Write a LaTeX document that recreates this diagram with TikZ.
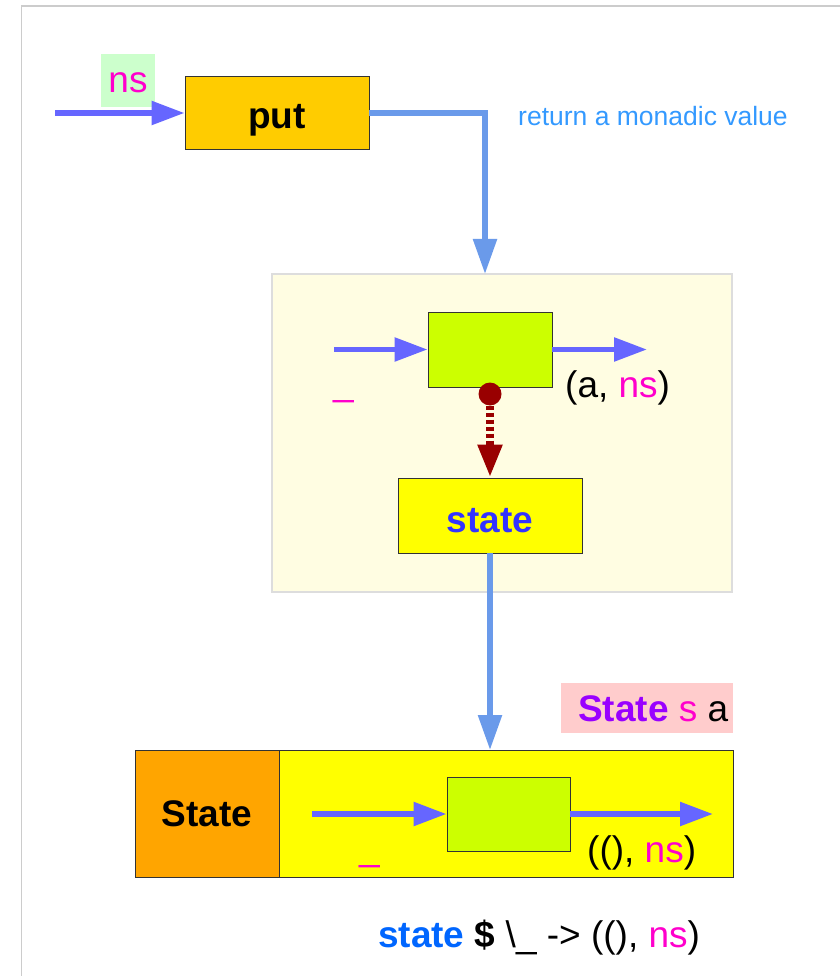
\documentclass[tikz,border=0pt]{standalone}
\usepackage{fontspec}
\setmainfont{Liberation Sans}
\usetikzlibrary{arrows.meta}
\definecolor{arrblue}{HTML}{6666FF}
\definecolor{linkblue}{HTML}{6A9AEA}
\definecolor{putfill}{HTML}{FFCC00}
\definecolor{paleyel}{HTML}{FFFDE2}
\definecolor{paleborder}{HTML}{DDDDDD}
\definecolor{limefill}{HTML}{CCFF00}
\definecolor{yelfill}{HTML}{FFFF00}
\definecolor{orangefill}{HTML}{FFA500}
\definecolor{pinkfill}{HTML}{FFCCCC}
\definecolor{greenlab}{HTML}{CCFFCC}
\definecolor{mag}{HTML}{FF00CC}
\definecolor{darkred}{HTML}{990000}
\definecolor{stateblue}{HTML}{3333FF}
\definecolor{purp}{HTML}{9900FF}
\definecolor{codeblue}{HTML}{0066FF}
\definecolor{retblue}{HTML}{3399FF}
\definecolor{framegray}{HTML}{CCCCCC}
\newcommand{\bigf}{\fontsize{37}{42}\selectfont}
\tikzset{
  box/.style={draw=black!80, line width=0.9pt, inner sep=0pt, rectangle},
  flowarr/.style={draw=arrblue, line width=5.5pt, -{Triangle[length=33pt,width=23pt]}},
  linkarr/.style={draw=linkblue, line width=5.5pt, -{Triangle[length=35pt,width=23pt]}},
  txt/.style={inner sep=0pt, font=\bigf},
}
\begin{document}
\begin{tikzpicture}[x=1pt,y=-1pt]
\useasboundingbox (0,0) rectangle (839,976);
% frame
\draw[framegray, line width=1.5pt] (21.5,990) -- (21.5,6) -- (850,6);

% top
\node[fill=greenlab, inner sep=0pt, minimum width=54pt, minimum height=53pt, text height=25pt, text depth=0pt, font=\bigf, text=mag] (nslab) at (128,80.5) {ns};
\node[box, fill=putfill, minimum width=184pt, minimum height=73pt, text height=32pt, text depth=0pt, font=\bigf\bfseries] (put) at (277,113) {put};
\coordinate (in0) at (55,113);
\draw[flowarr] (in0) -- (put.west);
\node[inner sep=0pt, anchor=base west, font=\fontsize{26.5}{30}\selectfont, text=retblue] (ret) at (518,126) {return a monadic value};

% middle
\node[draw=paleborder, line width=1.2pt, fill=paleyel, inner sep=0pt, minimum width=460pt, minimum height=318pt] (mid) at (502,433) {};
\coordinate (t1) at (485,274);
\draw[linkarr] (put.east) -| (t1);
\node[box, fill=limefill, minimum width=124pt, minimum height=75pt] (g1) at (490,349.5) {};
\node[box, fill=yelfill, minimum width=184pt, minimum height=75pt, text height=33pt, text depth=0pt, font=\bigf\bfseries, text=stateblue] (st) at (490,515.5) {state};
\coordinate (a1) at (334,349.5);
\coordinate (a2) at (647,349.5);
\draw[flowarr] (a1) -- (g1.west);
\draw[flowarr] (g1.east) -- (a2);
\node[txt, anchor=base west, text=mag] (us1) at (333,395.5) {\_};
\node[txt, anchor=base west] (ans) at (565,397) {(a, \textcolor{mag}{ns})};
\node[circle, fill=darkred, inner sep=0pt, minimum size=23pt] (dot) at (490,394) {};
\draw[darkred, line width=8pt, dash pattern=on 4pt off 3pt, -{Triangle[length=33pt,width=23pt]}] (dot.south) -- (st.north);

% bottom
\node[fill=pinkfill, inner sep=0pt, minimum width=172pt, minimum height=50pt] (pinkbg) at (647,708) {};
\node[txt, anchor=base west] (sa) at (578,721) {\textcolor{purp}{\bfseries State} \textcolor{mag}{s} a};
\node[box, fill=orangefill, minimum width=144pt, minimum height=127pt, font=\bigf\bfseries] (ob) at (207,813.5) {State};
\node[box, fill=yelfill, minimum width=454pt, minimum height=127pt] (yb) at (506,813.5) {};
\coordinate (t2) at (490,750);
\draw[linkarr] (st.south) -- (t2);
\node[box, fill=limefill, minimum width=123pt, minimum height=74pt] (g2) at (508.5,814) {};
\coordinate (b1) at (312,814);
\coordinate (b2) at (713,814);
\draw[flowarr] (b1) -- (g2.west);
\draw[flowarr] (g2.east) -- (b2);
\node[txt, anchor=base west, text=mag] (us2) at (359,860.5) {\_};
\node[txt, anchor=base west] (uns) at (587,862) {((), \textcolor{mag}{ns})};

\node[txt, anchor=base west] (code) at (378,947) {\textcolor{codeblue}{\bfseries state} \textbf{\$} \textbackslash\_ -> ((), \textcolor{mag}{ns})};
\end{tikzpicture}
\end{document}
